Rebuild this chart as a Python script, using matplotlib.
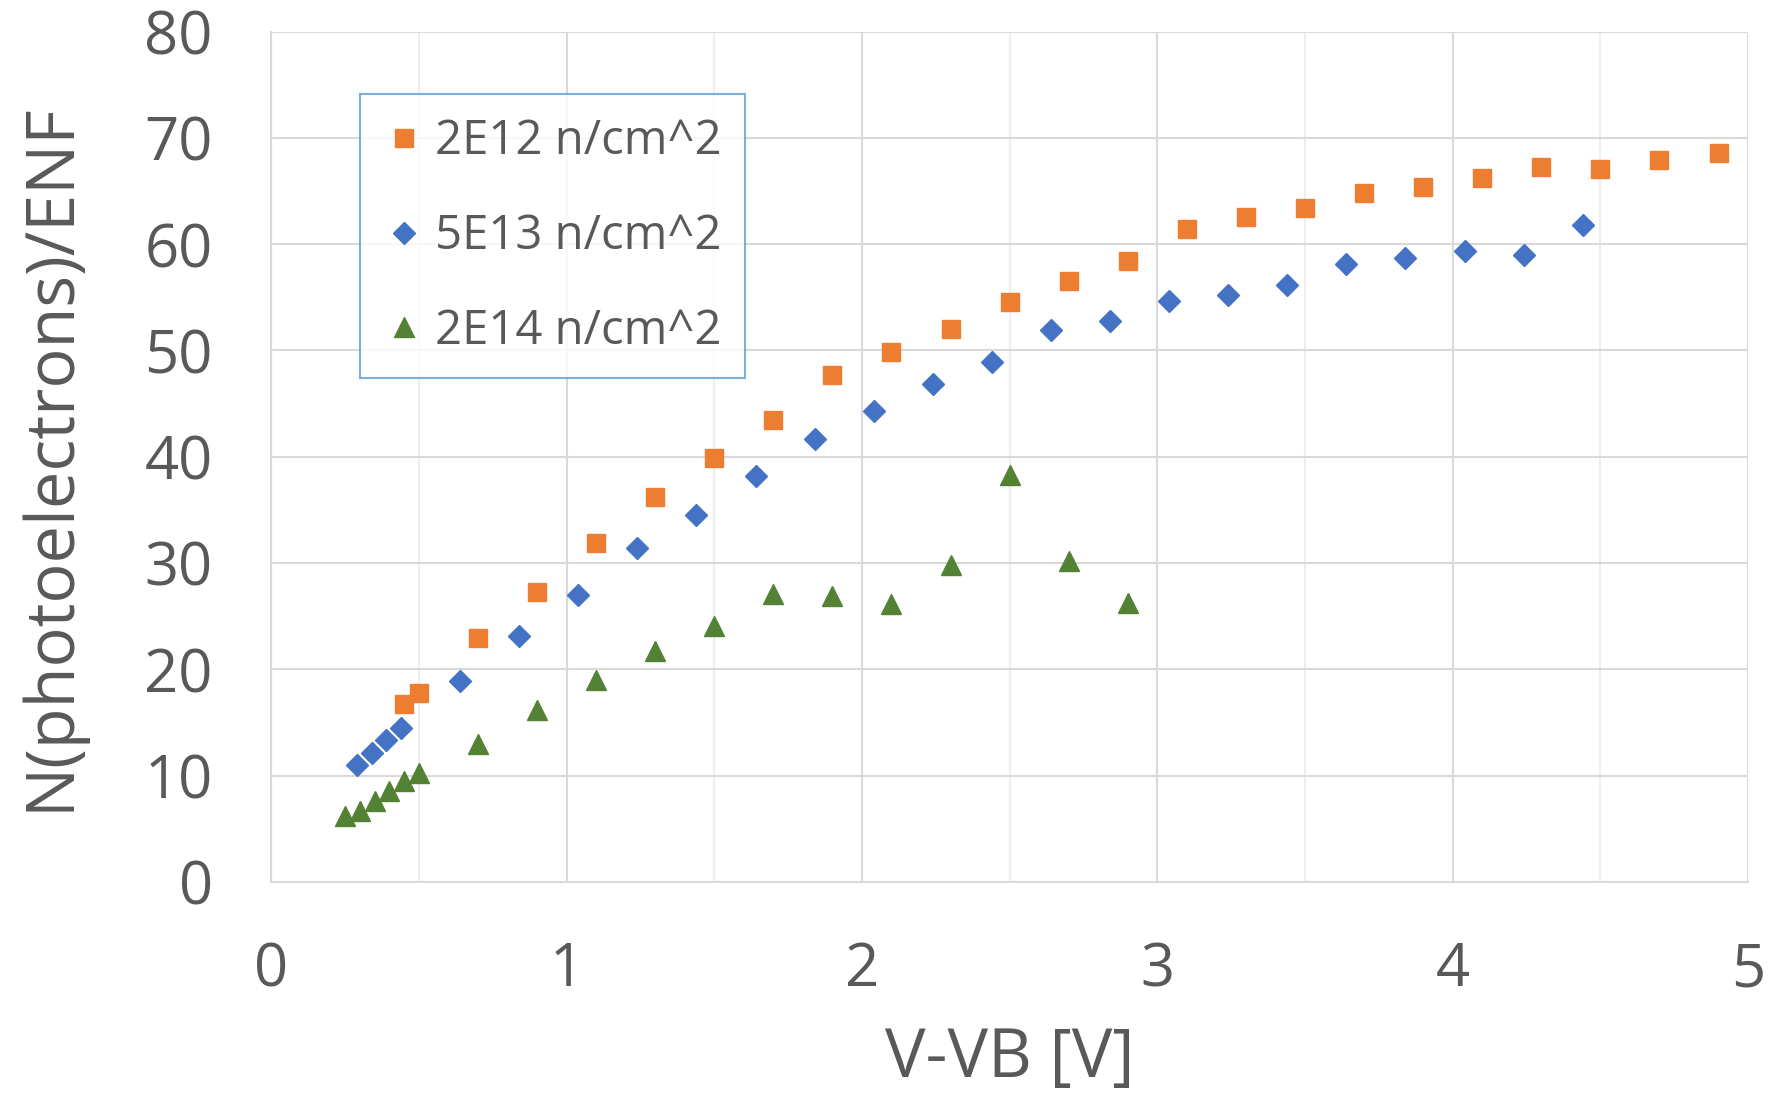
import matplotlib
matplotlib.use("Agg")
import matplotlib.pyplot as plt
from matplotlib.ticker import MultipleLocator

# Measured signal vs. overvoltage for three neutron fluences
x_2e12 = [0.45, 0.5, 0.7, 0.9, 1.1, 1.3, 1.5, 1.7, 1.9, 2.1, 2.3, 2.5, 2.7, 2.9,
          3.1, 3.3, 3.5, 3.7, 3.9, 4.1, 4.3, 4.5, 4.7, 4.9]
y_2e12 = [16.7, 17.8, 22.9, 27.3, 31.9, 36.2, 39.9, 43.5, 47.7, 49.9, 52.0, 54.6,
          56.5, 58.4, 61.4, 62.6, 63.4, 64.8, 65.4, 66.2, 67.3, 67.1, 67.9, 68.6]

x_5e13 = [0.29, 0.34, 0.39, 0.44, 0.64, 0.84, 1.04, 1.24, 1.44, 1.64, 1.84, 2.04,
          2.24, 2.44, 2.64, 2.84, 3.04, 3.24, 3.44, 3.64, 3.84, 4.04, 4.24, 4.44]
y_5e13 = [11.0, 12.1, 13.3, 14.5, 18.9, 23.1, 27.0, 31.4, 34.5, 38.2, 41.7, 44.3,
          46.8, 48.9, 51.9, 52.8, 54.7, 55.2, 56.2, 58.1, 58.7, 59.4, 59.0, 61.8]

x_2e14 = [0.25, 0.3, 0.35, 0.4, 0.45, 0.5, 0.7, 0.9, 1.1, 1.3, 1.5, 1.7, 1.9, 2.1,
          2.3, 2.5, 2.7, 2.9]
y_2e14 = [6.2, 6.7, 7.6, 8.5, 9.5, 10.2, 13.0, 16.2, 19.0, 21.7, 24.1, 27.1, 26.9,
          26.1, 29.8, 38.3, 30.2, 26.2]

labels = ["2E12 n/cm^2", "5E13 n/cm^2", "2E14 n/cm^2"]
x_ticks = [0, 1, 2, 3, 4, 5]
y_ticks = [0, 10, 20, 30, 40, 50, 60, 70, 80]

TEXT = "#595959"
GRID = "#d9d9d9"

plt.rcParams["font.family"] = ["Open Sans", "DejaVu Sans"]

fig = plt.figure(figsize=(17.72, 10.94), dpi=100)
ax = fig.add_axes([0.153, 0.194, 0.8335, 0.777])

ax.plot(x_2e12, y_2e12, linestyle="none", marker="s", markersize=13.5,
        color="#ed7d31", label=labels[0])
ax.plot(x_5e13, y_5e13, linestyle="none", marker="D", markersize=11,
        color="#4472c4", label=labels[1])
ax.plot(x_2e14, y_2e14, linestyle="none", marker="^", markersize=14,
        color="#548235", label=labels[2])

ax.set_xlim(0, 5)
ax.set_ylim(0, 80)
ax.set_xticks(x_ticks)
ax.set_yticks(y_ticks)
ax.xaxis.set_minor_locator(MultipleLocator(0.5))

ax.grid(which="major", color=GRID, linewidth=1.5)
ax.grid(which="minor", axis="x", color="#eeeeee", linewidth=1.5)
ax.set_axisbelow(True)

for side in ("top", "right"):
    ax.spines[side].set_visible(False)
for side in ("left", "bottom"):
    ax.spines[side].set_color(GRID)
    ax.spines[side].set_linewidth(1.5)

ax.tick_params(which="both", length=0, labelsize=43, labelcolor=TEXT)
ax.tick_params(axis="x", pad=42)
ax.tick_params(axis="y", pad=42)

ax.set_xlabel("V-VB [V]", fontsize=49, color=TEXT, va="center")
ax.xaxis.set_label_coords(0.5, -0.209)
ax.set_ylabel("N(photoelectrons)/ENF", fontsize=48, color=TEXT, va="center")
ax.yaxis.set_label_coords(-0.149, 0.5)

leg = ax.legend(loc="upper left", bbox_to_anchor=(0.0605, 0.9265), fontsize=34,
                labelcolor=TEXT, frameon=True, fancybox=False, markerscale=1.0,
                handletextpad=0.22, borderpad=0.5, labelspacing=1.0,
                handlelength=0.86, borderaxespad=0)
leg.get_frame().set_edgecolor("#5b9bd5")
leg.get_frame().set_linewidth(1.5)

fig.savefig("out.png", dpi=100, facecolor="white")
